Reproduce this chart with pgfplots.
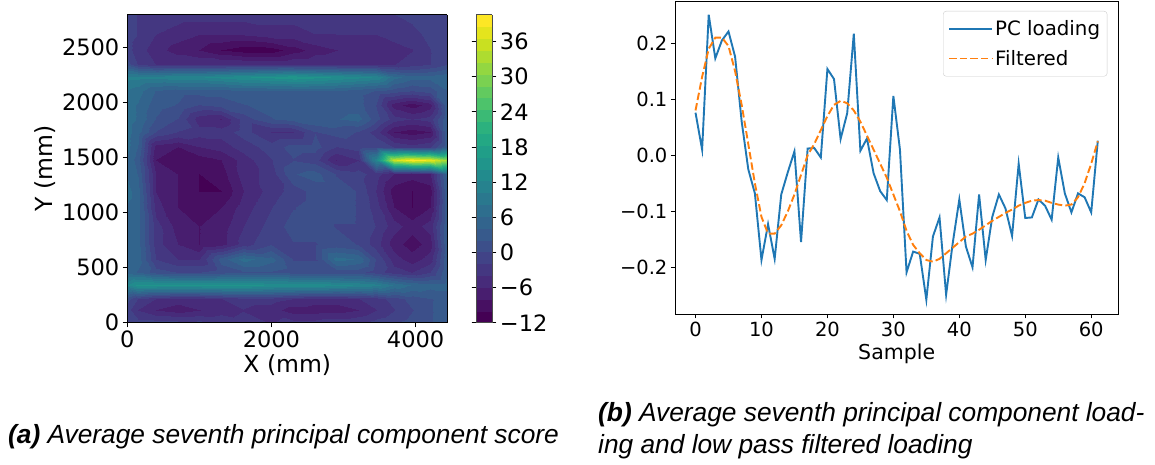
\documentclass[border=0pt]{standalone}
\usepackage{fontspec}
\setmainfont{DejaVu Sans}
\newfontfamily\capfont{Liberation Sans}
\usepackage{pgfplots}
\pgfplotsset{compat=1.18}

\definecolor{mplblue}{HTML}{1F77B4}
\definecolor{mplorange}{HTML}{FF7F0E}

\begin{document}
\begin{tikzpicture}[x=1pt,y=1pt]
\useasboundingbox (0,0) rectangle (1155,465);

% (a) average seventh PC score, filled contour look
\begin{axis}[
  at={(127.3pt,142.3pt)}, anchor=south west,
  scale only axis, width=320pt, height=308pt,
  view={0}{90},
  xmin=0, xmax=4440, ymin=0, ymax=2800,
  xtick={0,2000,4000}, ytick={0,500,...,2500},
  tick pos=left,
  tick align=outside, major tick length=4.5pt,
  tick style={black, line width=0.8pt},
  axis line style={line width=0.8pt},
  ticklabel style={font=\fontsize{22.5}{26}\selectfont},
  /pgf/number format/assume math mode=true,
  /pgf/number format/1000 sep={},
  xlabel={X (mm)}, ylabel={Y (mm)},
  label style={font=\fontsize{23.5}{28}\selectfont},
  colormap={vir}{samples of colormap=(26 of viridis)},
  colormap access=piecewise constant,
  point meta min=-12, point meta max=40.57,
  colorbar,
  colorbar style={
    at={(parent axis.north east)}, anchor=north west, xshift=20.3pt,
    width=15.8pt,
    ytick={-12,-6,...,36},
    yticklabels={−12,−6,0,6,12,18,24,30,36},
    tick align=outside, major tick length=4.5pt,
    axis line style={line width=0.8pt, black!70},
    ticklabel style={font=\fontsize{22.5}{26}\selectfont},
  },
  axis on top,
]
\addplot3[surf, shader=interp, mesh/cols=17] coordinates {
(0,0,0) (150,0,-1) (400,0,-1) (700,0,-1) (1000,0,-1) (1300,0,-2) (1600,0,-3) (2000,0,-4) (2300,0,-3) (2600,0,-3) (2900,0,-2) (3200,0,-2) (3450,0,-1) (3700,0,0) (3950,0,1) (4200,0,2) (4440,0,3)

(0,120,-1) (150,120,-4) (400,120,-6) (700,120,-7) (1000,120,-6) (1300,120,-5) (1600,120,-4) (2000,120,-5) (2300,120,-7) (2600,120,-7) (2900,120,-7) (3200,120,-6) (3450,120,-4) (3700,120,-2) (3950,120,0) (4200,120,2) (4440,120,3)

(0,220,1) (150,220,-2) (400,220,-4) (700,220,-5) (1000,220,-5) (1300,220,-4) (1600,220,-3) (2000,220,-3) (2300,220,-4) (2600,220,-5) (2900,220,-5) (3200,220,-4) (3450,220,-3) (3700,220,-1) (3950,220,1) (4200,220,2) (4440,220,3)

(0,340,12) (150,340,15) (400,340,15) (700,340,15) (1000,340,15) (1300,340,15) (1600,340,15) (2000,340,14) (2300,340,14) (2600,340,14) (2900,340,13) (3200,340,12) (3450,340,11) (3700,340,8) (3950,340,6) (4200,340,5) (4440,340,5)

(0,460,5) (150,460,4) (400,460,1) (700,460,0) (1000,460,0) (1300,460,1) (1600,460,2) (2000,460,2) (2300,460,1) (2600,460,1) (2900,460,1) (3200,460,1) (3450,460,-1) (3700,460,-3) (3950,460,-4) (4200,460,-2) (4440,460,4)

(0,580,6) (150,580,5) (400,580,-2) (700,580,-4) (1000,580,-4) (1300,580,3) (1600,580,7) (2000,580,5) (2300,580,0) (2600,580,0) (2900,580,7) (3200,580,6) (3450,580,0) (3700,580,-5) (3950,580,-7) (4200,580,-5) (4440,580,4)

(0,720,6) (150,720,5) (400,720,-3) (700,720,-6) (1000,720,-8) (1300,720,-7) (1600,720,-3) (2000,720,0) (2300,720,0) (2600,720,0) (2900,720,1) (3200,720,0) (3450,720,-3) (3700,720,-7) (3950,720,-9) (4200,720,-7) (4440,720,4)

(0,880,6) (150,880,5) (400,880,-3) (700,880,-7) (1000,880,-8) (1300,880,-7) (1600,880,-4) (2000,880,-1) (2300,880,1) (2600,880,1) (2900,880,0) (3200,880,0) (3450,880,-2) (3700,880,-5) (3950,880,-7) (4200,880,-5) (4440,880,4)

(0,1050,6) (150,1050,5) (400,1050,-5) (700,1050,-8) (1000,1050,-9) (1300,1050,-8) (1600,1050,-5) (2000,1050,-2) (2300,1050,0) (2600,1050,1) (2900,1050,1) (3200,1050,0) (3450,1050,-3) (3700,1050,-8) (3950,1050,-10) (4200,1050,-8) (4440,1050,4)

(0,1200,7) (150,1200,5) (400,1200,-6) (700,1200,-8) (1000,1200,-10) (1300,1200,-10) (1600,1200,-6) (2000,1200,-3) (2300,1200,-1) (2600,1200,1) (2900,1200,1) (3200,1200,0) (3450,1200,-4) (3700,1200,-9) (3950,1200,-10) (4200,1200,-9) (4440,1200,4)

(0,1350,6) (150,1350,4) (400,1350,-6) (700,1350,-8) (1000,1350,-10) (1300,1350,-9) (1600,1350,-5) (2000,1350,-3) (2300,1350,2) (2600,1350,3) (2900,1350,0) (3200,1350,-1) (3450,1350,-3) (3700,1350,-6) (3950,1350,-7) (4200,1350,-6) (4440,1350,5)

(0,1480,6) (150,1480,3) (400,1480,-8) (700,1480,-9) (1000,1480,-9) (1300,1480,-8) (1600,1480,-5) (2000,1480,-2) (2300,1480,0) (2600,1480,-1) (2900,1480,-6) (3200,1480,-4) (3450,1480,12) (3700,1480,36) (3950,1480,40) (4200,1480,38) (4440,1480,32)

(0,1600,7) (150,1600,4) (400,1600,-7) (700,1600,-8) (1000,1600,-6) (1300,1600,-5) (1600,1600,-3) (2000,1600,-1) (2300,1600,1) (2600,1600,1) (2900,1600,-2) (3200,1600,-1) (3450,1600,0) (3700,1600,-2) (3950,1600,-3) (4200,1600,-2) (4440,1600,4)

(0,1730,7) (150,1730,5) (400,1730,0) (700,1730,-2) (1000,1730,-3) (1300,1730,-3) (1600,1730,-1) (2000,1730,-4) (2300,1730,-4) (2600,1730,0) (2900,1730,1) (3200,1730,0) (3450,1730,-3) (3700,1730,-8) (3950,1730,-9) (4200,1730,-8) (4440,1730,4)

(0,1850,7) (150,1850,6) (400,1850,2) (700,1850,0) (1000,1850,-5) (1300,1850,-6) (1600,1850,-1) (2000,1850,2) (2300,1850,3) (2600,1850,4) (2900,1850,4) (3200,1850,5) (3450,1850,1) (3700,1850,-3) (3950,1850,-4) (4200,1850,-3) (4440,1850,4)

(0,1980,7) (150,1980,6) (400,1980,3) (700,1980,2) (1000,1980,0) (1300,1980,1) (1600,1980,2) (2000,1980,3) (2300,1980,3) (2600,1980,3) (2900,1980,3) (3200,1980,3) (3450,1980,0) (3700,1980,-7) (3950,1980,-9) (4200,1980,-7) (4440,1980,4)

(0,2110,8) (150,2110,7) (400,2110,4) (700,2110,3) (1000,2110,3) (1300,2110,3) (1600,2110,4) (2000,2110,4) (2300,2110,4) (2600,2110,4) (2900,2110,4) (3200,2110,3) (3450,2110,2) (3700,2110,1) (3950,2110,0) (4200,2110,1) (4440,2110,4)

(0,2230,11) (150,2230,11) (400,2230,11) (700,2230,12) (1000,2230,12) (1300,2230,13) (1600,2230,14) (2000,2230,15) (2300,2230,16) (2600,2230,15) (2900,2230,14) (3200,2230,13) (3450,2230,12) (3700,2230,7) (3950,2230,5) (4200,2230,5) (4440,2230,6)

(0,2350,1) (150,2350,-2) (400,2350,-4) (700,2350,-4) (1000,2350,-4) (1300,2350,-4) (1600,2350,-4) (2000,2350,-4) (2300,2350,-4) (2600,2350,-4) (2900,2350,-4) (3200,2350,-4) (3450,2350,-4) (3700,2350,-4) (3950,2350,-3) (4200,2350,-2) (4440,2350,0)

(0,2480,-1) (150,2480,-3) (400,2480,-5) (700,2480,-7) (1000,2480,-8) (1300,2480,-10) (1600,2480,-11) (2000,2480,-11) (2300,2480,-9) (2600,2480,-7) (2900,2480,-6) (3200,2480,-5) (3450,2480,-5) (3700,2480,-5) (3950,2480,-4) (4200,2480,-2) (4440,2480,0)

(0,2620,-1) (150,2620,-2) (400,2620,-4) (700,2620,-5) (1000,2620,-6) (1300,2620,-6) (1600,2620,-6) (2000,2620,-5) (2300,2620,-5) (2600,2620,-4) (2900,2620,-4) (3200,2620,-4) (3450,2620,-4) (3700,2620,-3) (3950,2620,-3) (4200,2620,-1) (4440,2620,0)

(0,2800,-1) (150,2800,-2) (400,2800,-2) (700,2800,-3) (1000,2800,-3) (1300,2800,-3) (1600,2800,-3) (2000,2800,-3) (2300,2800,-3) (2600,2800,-3) (2900,2800,-2) (3200,2800,-2) (3450,2800,-2) (3700,2800,-2) (3950,2800,-1) (4200,2800,0) (4440,2800,0)
};
\end{axis}

% (b) loading and low pass filtered loading
\begin{axis}[
  at={(675.4pt,151pt)}, anchor=south west,
  scale only axis, width=442.5pt, height=313pt,
  xmin=-3.05, xmax=64.05, ymin=-0.2834, ymax=0.2754,
  xtick={0,10,...,60}, ytick={-0.2,-0.1,0,0.1,0.2},
  yticklabels={−0.2,−0.1,0.0,0.1,0.2},
  tick pos=left,
  tick align=outside, major tick length=4.5pt,
  tick style={black, line width=0.8pt},
  axis line style={line width=0.8pt},
  ticklabel style={font=\fontsize{19.5}{23}\selectfont},
  /pgf/number format/assume math mode=true,
  xlabel={Sample},
  label style={font=\fontsize{20.5}{24}\selectfont},
  legend style={at={(1,1)}, anchor=north east, xshift=-10.6pt, yshift=-10pt,
    draw=black!20, rounded corners=3pt, fill=white,
    font=\fontsize{19.8}{24}\selectfont, inner xsep=5pt, inner ysep=7.5pt,
    row sep=9pt},
  legend cell align=left,
  legend image code/.code={\draw[#1] (0pt,0pt) -- (43pt,0pt);},
]
\addplot[mplblue, line width=1.9pt] table {
0 0.076
1 0.010
2 0.251
3 0.173
4 0.205
5 0.221
6 0.176
7 0.060
8 -0.025
9 -0.068
10 -0.187
11 -0.123
12 -0.185
13 -0.070
14 -0.030
15 0.007
16 -0.155
17 0.012
18 0.013
19 -0.004
20 0.154
21 0.136
22 0.029
23 0.075
24 0.217
25 0.008
26 0.030
27 -0.032
28 -0.064
29 -0.080
30 0.106
31 0.010
32 -0.209
33 -0.172
34 -0.176
35 -0.258
36 -0.145
37 -0.111
38 -0.249
39 -0.157
40 -0.079
41 -0.163
42 -0.200
43 -0.070
44 -0.187
45 -0.110
46 -0.070
47 -0.095
48 -0.144
49 -0.015
50 -0.112
51 -0.111
52 -0.079
53 -0.090
54 -0.115
55 -0.004
56 -0.068
57 -0.102
58 -0.068
59 -0.075
60 -0.102
61 0.026
};
\addlegendentry{PC loading}
\addplot[mplorange, line width=1.9pt, dash pattern=on 7.4pt off 3.2pt] table {
0 0.080
1 0.140
2 0.190
3 0.210
4 0.210
5 0.195
6 0.150
7 0.090
8 0.020
9 -0.050
10 -0.110
11 -0.140
12 -0.140
13 -0.125
14 -0.100
15 -0.070
16 -0.035
17 0.000
18 0.020
19 0.045
20 0.070
21 0.090
22 0.097
23 0.093
24 0.080
25 0.060
26 0.035
27 0.010
28 -0.015
29 -0.040
30 -0.070
31 -0.100
32 -0.135
33 -0.160
34 -0.175
35 -0.187
36 -0.190
37 -0.185
38 -0.175
39 -0.165
40 -0.155
41 -0.145
42 -0.140
43 -0.133
44 -0.125
45 -0.117
46 -0.110
47 -0.103
48 -0.097
49 -0.090
50 -0.085
51 -0.081
52 -0.080
53 -0.081
54 -0.085
55 -0.088
56 -0.090
57 -0.088
58 -0.075
59 -0.050
60 -0.015
61 0.025
};
\addlegendentry{Filtered}
\end{axis}

% captions
\node[anchor=base west, inner sep=0pt] at (8,21)
  {\capfont\fontsize{26.3}{30}\selectfont\textbf{\textit{(a)}} \textit{Average seventh principal component score}};
\node[anchor=base west, inner sep=0pt] at (598,43)
  {\capfont\fontsize{26.3}{30}\selectfont\textbf{\textit{(b)}} \textit{Average seventh principal component load-}};
\node[anchor=base west, inner sep=0pt] at (598,11)
  {\capfont\fontsize{26.3}{30}\selectfont\textit{ing and low pass filtered loading}};
\end{tikzpicture}
\end{document}
